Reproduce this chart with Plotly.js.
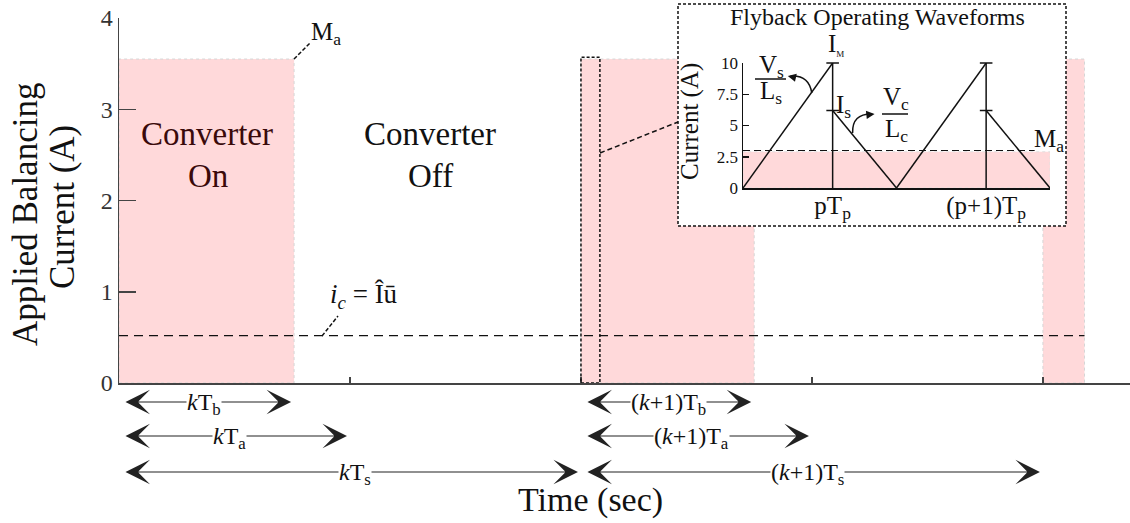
<!DOCTYPE html>
<html><head><meta charset="utf-8">
<script src="https://cdn.plot.ly/plotly-3.0.1.min.js"></script>
<style>body{margin:0;background:#fff}</style>
</head><body>
<div id="chart" style="width:1130px;height:523px"></div>
<script>
// ---------------- data ----------------
// main chart (time in units of T_a)
const onStart = [0, 2.0, 4.0];        // converter-on start times
const onEnd = [0.758, 2.75, 4.18];    // converter-on end times
const onLevel = 3.55;                  // M_a (A)
const avgCurrent = 0.52;               // i_c = I u
const avgLineX = [0, 4.18];
const mainYTicks = [0, 1, 2, 3, 4];
const mainXTicks = [0, 1, 2, 3, 4];
const zoomBoxX = [2.0, 2.082];
const zoomBoxTop = 3.57;

// period interval arrows
const intStart = [0, 0, 0, 2, 2, 2];
const intEnd = [0.758, 1.0, 2.0, 2.75, 3.0, 4.0];
const intRow = [0, 1, 2, 0, 1, 2];
const intLabel = ['<i>k</i>T<sub>b</sub>', '<i>k</i>T<sub>a</sub>', '<i>k</i>T<sub>s</sub>',
                  '(<i>k</i>+1)T<sub>b</sub>', '(<i>k</i>+1)T<sub>a</sub>', '(<i>k</i>+1)T<sub>s</sub>'];
const intLabelX = [0.37, 0.48, 1.02, 2.38, 2.48, 2.98];

// inset: flyback waveforms (time in units of T_p)
const cycleStart = [0, 1.0];
const peakTime = [0.584, 1.584];
const cycleEnd = [1.0, 2.0];
const peakCurrent = 10;     // I_M
const secCurrent = 6.2;     // I_s
const insetAvg = 2.9;       // shaded average
const insetMa = 3.0;        // M_a dashed level
const insetMaX = [0, 1.9];
const insetYTicks = [0, 2.5, 5, 7.5, 10];
const insetYLabels = ['0', '2.5', '5', '7.5', '10'];
const insetXTicks = [0.584, 1.584];
const insetXLabels = ['pT<sub>p</sub>', '(p+1)T<sub>p</sub>'];

// ---------------- helpers ----------------
const W = 1130, H = 523;
const px = x => x / W;
const py = y => 1 - y / H;
const PINK = 'rgb(255,217,218)';
const FONT = 'Liberation Serif, Times New Roman, serif';

// main pink rectangles
const rx = [], ry = [];
onStart.forEach((s, i) => {
  rx.push(s, onEnd[i], onEnd[i], s, s, null);
  ry.push(0, 0, onLevel, onLevel, 0, null);
});

// inset waveform
const wx = [], wy = [], vx = [], vy = [];
cycleStart.forEach((s, i) => {
  wx.push(s, peakTime[i], null, peakTime[i], cycleEnd[i], null);
  wy.push(0, peakCurrent, null, secCurrent, 0, null);
  vx.push(peakTime[i], peakTime[i], null);
  vy.push(0, peakCurrent, null);
});
const capX = [], capY = [];
peakTime.forEach(t => { capX.push(t, t); capY.push(peakCurrent, secCurrent); });

const traces = [
  {x: rx, y: ry, xaxis: 'x', yaxis: 'y', mode: 'lines', fill: 'toself', fillcolor: PINK,
   line: {color: '#d6d6d6', width: 1, dash: 'dot'}, hoverinfo: 'skip'},
  {x: avgLineX, y: [avgCurrent, avgCurrent], xaxis: 'x', yaxis: 'y', mode: 'lines',
   line: {color: '#111', width: 1.2, dash: '9px,6px'}, hoverinfo: 'skip'},
  // box subplot (white background for inset)
  {x: [0.5], y: [0.5], xaxis: 'x2', yaxis: 'y2', mode: 'markers', marker: {opacity: 0}, hoverinfo: 'skip'},
  // inset
  {x: [0, cycleEnd[cycleEnd.length-1], cycleEnd[cycleEnd.length-1], 0, 0],
   y: [0, 0, insetAvg, insetAvg, 0], xaxis: 'x3', yaxis: 'y3', mode: 'lines', fill: 'toself',
   fillcolor: PINK, line: {color: '#e0e0e0', width: 1, dash: 'dot'}, hoverinfo: 'skip'},
  {x: insetMaX, y: [insetMa, insetMa], xaxis: 'x3', yaxis: 'y3', mode: 'lines',
   line: {color: '#111', width: 1.2, dash: '7px,4px'}, hoverinfo: 'skip'},
  {x: wx, y: wy, xaxis: 'x3', yaxis: 'y3', mode: 'lines', cliponaxis: false,
   line: {color: '#111', width: 1.5}, hoverinfo: 'skip'},
  {x: vx, y: vy, xaxis: 'x3', yaxis: 'y3', mode: 'lines', cliponaxis: false,
   line: {color: '#111', width: 1.5}, hoverinfo: 'skip'},
  {x: capX, y: capY, xaxis: 'x3', yaxis: 'y3', mode: 'markers', cliponaxis: false,
   marker: {symbol: 'line-ew', size: 9, line: {color: '#111', width: 1.5}}, hoverinfo: 'skip'}
];

const ann = [];
function T(text, x, y, size, extra) {
  ann.push(Object.assign({text: text, x: px(x), y: py(y), xref: 'paper', yref: 'paper',
    showarrow: false, font: {size: size, color: '#111', family: FONT},
    xanchor: 'center', yanchor: 'middle'}, extra || {}));
}
// interval arrows
const rowY = [402, 436, 472];
intStart.forEach((s, i) => {
  ann.push({x: intEnd[i], y: py(rowY[intRow[i]]), xref: 'x', yref: 'paper',
    ax: s, axref: 'x', ay: 0, ayref: 'pixel', text: '', showarrow: true,
    arrowside: 'end+start', arrowhead: 3, startarrowhead: 3, arrowsize: 3.4, startarrowsize: 3.4,
    arrowwidth: 1.2, arrowcolor: '#222', standoff: 3, startstandoff: 5});
});
intStart.forEach((s, i) => {
  ann.push({x: intLabelX[i], y: py(rowY[intRow[i]] + 2), xref: 'x', yref: 'paper', text: intLabel[i],
    showarrow: false, bgcolor: '#fff', borderpad: 0,
    font: {size: 24, color: '#111', family: FONT}, xanchor: 'center', yanchor: 'middle'});
});

T('Converter', 207, 134, 33, {font: {size: 33, color: '#3a0a0a', family: FONT}});
T('On', 208, 176, 33, {font: {size: 33, color: '#3a0a0a', family: FONT}});
T('Converter', 430, 134, 33);
T('Off', 430, 176, 33);
T('M<sub>a</sub>', 326, 33, 25);
T('<i>i</i><sub><i>c</i></sub> = Îū', 364, 296, 27);
T('Applied Balancing', 25, 215, 35, {textangle: -90});
T('Current (A)', 62, 207, 35, {textangle: -90});
T('Time (sec)', 590, 500, 34);
// inset labels
T('Flyback Operating Waveforms', 877, 17, 24);
T('Current (A)', 690, 122, 25, {textangle: -90});
T('I<sub><span style="font-size:9px">M</span></sub>', 836, 44, 25);
T('V<sub>s</sub>', 771, 66, 25);
T('L<sub>s</sub>', 771, 93, 25);
T('I<sub>s</sub>', 843, 107, 25);
T('V<sub>c</sub>', 896, 99, 25);
T('L<sub>c</sub>', 896, 130, 25);
T('M<sub>a</sub>', 1049, 140, 25);
// curved arrow heads
ann.push({x: 0.292, y: 8.96, xref: 'x3', yref: 'y3', ax: 9, ay: 2, text: '', showarrow: true,
  arrowhead: 2, arrowsize: 1.1, arrowwidth: 1.5, arrowcolor: '#111'});
ann.push({x: 0.857, y: 5.92, xref: 'x3', yref: 'y3', ax: -9, ay: 1, text: '', showarrow: true,
  arrowhead: 2, arrowsize: 1.1, arrowwidth: 1.5, arrowcolor: '#111'});

const shapes = [
  {type: 'rect', xref: 'paper', yref: 'paper', x0: px(678), x1: px(1066), y0: py(226), y1: py(4),
   line: {color: '#111', width: 1.5, dash: '3px,2px'}, layer: 'above'},
  {type: 'rect', xref: 'x', yref: 'y', x0: zoomBoxX[0], x1: zoomBoxX[1], y0: 0, y1: zoomBoxTop,
   line: {color: '#111', width: 1.5, dash: '3px,2px'}, layer: 'above'},
  {type: 'line', xref: 'paper', yref: 'paper', x0: px(600), y0: py(153), x1: px(678), y1: py(122),
   line: {color: '#111', width: 1.5, dash: '5px,3px'}, layer: 'above'},
  {type: 'line', xref: 'paper', yref: 'paper', x0: px(294), y0: py(59), x1: px(310), y1: py(43),
   line: {color: '#111', width: 1.5, dash: '4px,2px'}, layer: 'above'},
  {type: 'line', xref: 'paper', yref: 'paper', x0: px(322), y0: py(336), x1: px(338), y1: py(316),
   line: {color: '#111', width: 1.5, dash: '4px,2px'}, layer: 'above'},
  {type: 'line', xref: 'paper', yref: 'paper', x0: px(755), y0: py(79), x1: px(786), y1: py(79),
   line: {color: '#111', width: 1.5}, layer: 'above'},
  {type: 'line', xref: 'paper', yref: 'paper', x0: px(882), y0: py(114), x1: px(908), y1: py(114),
   line: {color: '#111', width: 1.5}, layer: 'above'},
  {type: 'path', xref: 'x3', yref: 'y3', path: 'M0.448,7.6 Q0.43,9.05 0.31,8.95',
   line: {color: '#111', width: 1.5}, layer: 'above'},
  {type: 'path', xref: 'x3', yref: 'y3', path: 'M0.714,4.4 Q0.71,5.95 0.84,5.92',
   line: {color: '#111', width: 1.5}, layer: 'above'}
];

const layout = {
  width: W, height: H, margin: {l: 0, r: 0, t: 0, b: 0},
  paper_bgcolor: '#fff', plot_bgcolor: '#fff', showlegend: false,
  font: {family: FONT, color: '#111'},
  xaxis: {domain: [px(119), 1], range: [0, 4.377], anchor: 'y', showgrid: false, zeroline: false,
    showline: true, linecolor: '#444', linewidth: 1.5, ticks: 'inside', ticklen: 6, tickwidth: 1.5,
    tickcolor: '#444', tickvals: mainXTicks, showticklabels: false, fixedrange: true},
  yaxis: {domain: [py(383), py(18)], range: [0, 4], anchor: 'x', showgrid: false, zeroline: false,
    showline: true, linecolor: '#444', linewidth: 1.5, ticks: 'inside', ticklen: 17, tickwidth: 1.5,
    tickcolor: '#444', tickvals: mainYTicks, tickfont: {size: 24, color: '#333', family: FONT}, fixedrange: true},
  xaxis2: {domain: [px(678), px(1066)], range: [0, 1], anchor: 'y2', visible: false, fixedrange: true},
  yaxis2: {domain: [py(226), py(4)], range: [0, 1], anchor: 'x2', visible: false, fixedrange: true},
  xaxis3: {domain: [px(743), px(1050)], range: [0, 2], anchor: 'y3', showgrid: false, zeroline: false,
    showline: true, linecolor: '#111', linewidth: 1.5, ticks: '', tickvals: insetXTicks,
    ticktext: insetXLabels, ticklabelstandoff: -6,
    tickfont: {size: 25, color: '#111', family: FONT}, fixedrange: true},
  yaxis3: {domain: [py(188), py(63)], range: [0, 10], anchor: 'x3', showgrid: false, zeroline: false,
    showline: true, linecolor: '#111', linewidth: 1.5, ticks: 'inside', ticklen: 6, tickwidth: 1.5,
    tickcolor: '#111', tickvals: insetYTicks, ticktext: insetYLabels,
    tickfont: {size: 17, color: '#111', family: FONT}, fixedrange: true},
  annotations: ann,
  shapes: shapes
};
Plotly.newPlot('chart', traces, layout, {staticPlot: true, displayModeBar: false});
</script>
</body></html>
